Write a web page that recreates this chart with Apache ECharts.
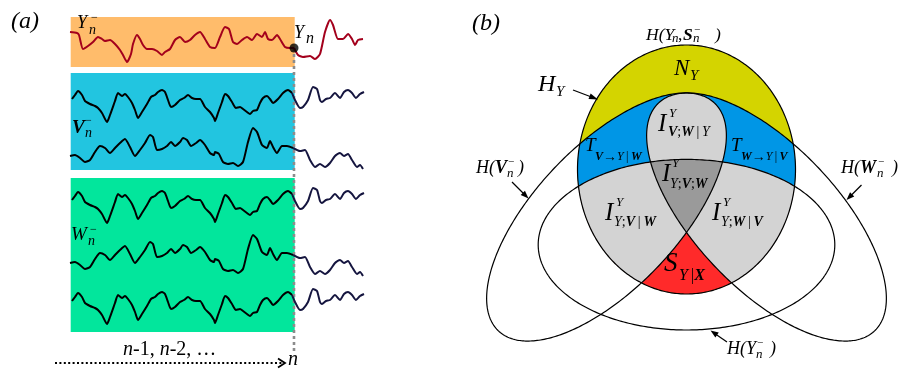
<!DOCTYPE html>
<html>
<head>
<meta charset="utf-8">
<script src="https://cdn.jsdelivr.net/npm/echarts@6/dist/echarts.min.js"></script>
<style>
  html, body { margin: 0; padding: 0; background: #fff; }
  #main { width: 900px; height: 369px; }
</style>
</head>
<body>
<div id="main"></div>
<script>
// ---- data: time t, amplitude ----
const tN = 224 // time step n

const traceY = [[0,13],[7,12],[9,10],[13,-4],[18,-1],[23,3],[28,8],[32,6],[35,4],[40,5],[45,1],[50,-5],[53,-10],[57,-17],[61,-9],[63,1],[67,10],[70,6],[73,0],[77,-4],[82,-4],[87,-6],[92,-10],[95,-7],[100,-4],[105,5],[110,8],[115,3],[120,5],[125,10],[130,13],[135,6],[140,-2],[145,-3],[150,8],[155,18],[159,16],[163,3],[167,1],[172,5],[177,8],[182,5],[187,11],[192,8],[195,13],[198,6],[202,5],[207,10],[210,6],[215,-2],[220,-3],[224,-3],[228,-10],[233,-12],[240,-11],[245,-14],[250,-9],[255,13],[260,25],[263,20],[268,6],[273,6],[278,11],[282,6],[285,0],[288,5],[293,6]]

const traceV1 = [[2,6],[5,10],[8,14],[12,10],[15,4],[20,1],[25,-1],[28,-3],[32,-8],[37,-17],[40,-10],[45,4],[48,12],[52,9],[55,11],[58,8],[62,2],[65,-5],[68,-13],[72,-7],[77,1],[81,8],[85,10],[88,13],[92,15],[95,13],[98,5],[101,-2],[105,0],[110,5],[114,7],[118,10],[122,7],[126,6],[130,6],[135,-2],[140,-7],[144,-13],[145,-16],[148,-8],[152,3],[155,11],[158,9],[162,3],[166,-3],[170,-2],[173,-4],[177,-7],[180,-9],[183,-6],[187,-5],[190,2],[193,7],[197,9],[200,6],[203,2],[208,6],[213,12],[218,15],[222,12],[225,5],[230,-3],[233,-2],[238,5],[243,18],[247,16],[250,5],[252,3],[256,6],[260,7],[265,12],[270,7],[274,13],[278,15],[282,12],[286,7],[290,11],[294,13]]

const traceV2 = [[0,-8],[5,-7],[10,-10],[15,-14],[20,-12],[25,-4],[30,2],[35,0],[40,-5],[45,0],[50,5],[55,9],[60,1],[65,-8],[70,-2],[75,5],[80,13],[83,11],[87,-2],[92,-1],[97,2],[101,6],[105,2],[110,6],[113,10],[117,8],[121,2],[126,5],[130,8],[135,3],[140,-5],[144,-7],[145,-4],[149,-6],[153,-14],[158,-16],[163,-15],[168,-18],[173,-14],[178,6],[183,20],[187,16],[192,3],[197,0],[200,7],[203,1],[207,-5],[212,2],[217,2],[223,0],[230,-3],[235,-2],[240,-12],[245,-19],[250,-16],[255,-19],[260,-15],[265,-8],[270,-5],[274,-8],[278,-6],[282,-12],[287,-19],[290,-17],[293,-21]]

// the W traces repeat the V shapes in the picture
const traceW1 = traceV1
const traceW2 = traceV2
const traceW3 = traceV1

// ---- layout ----
const FONT = '"Liberation Serif", "DejaVu Serif", serif'
const rows = [
	{ data: traceY, mid: 45, past: '#a3001c', future: '#a3001c' },
	{ data: traceV1, mid: 105, past: '#000', future: '#15153f' },
	{ data: traceV2, mid: 148, past: '#000', future: '#15153f' },
	{ data: traceW1, mid: 206, past: '#000', future: '#15153f' },
	{ data: traceW2, mid: 255, past: '#000', future: '#15153f' },
	{ data: traceW3, mid: 307, past: '#000', future: '#15153f' }
]

const chart = echarts.init(document.getElementById('main'), null, { renderer: 'canvas' })

const series = []
rows.forEach((r, i) => {
	const past = r.data.filter(p => p[0] <= tN)
	const last = past[past.length - 1][0]
	const future = r.data.filter(p => p[0] >= last)
	;[[past, r.past], [future, r.future]].forEach(([d, c]) => {
		series.push({
			type: 'line',
			xAxisIndex: i,
			yAxisIndex: i,
			data: d,
			showSymbol: false,
			smooth: 0.2,
			silent: true,
			z: 3,
			lineStyle: { width: 2, color: c }
		})
	})
})
series.push({
	type: 'scatter',
	xAxisIndex: 0,
	yAxisIndex: 0,
	data: traceY.filter(p => p[0] === tN),
	symbolSize: 9,
	itemStyle: { color: '#000' },
	silent: true,
	z: 5
})

chart.setOption({
	animation: false,
	backgroundColor: '#fff',
	grid: rows.map(r => ({ left: 70, width: 294, top: r.mid - 30, height: 60, show: false })),
	xAxis: rows.map((r, i) => ({ type: 'value', gridIndex: i, min: 0, max: 294, show: false })),
	yAxis: rows.map((r, i) => ({ type: 'value', gridIndex: i, min: -30, max: 30, show: false })),
	series: series
})

// ---- helpers for the drawing ----
function rich(s) {
	return {
		i: { fontSize: s, fontFamily: FONT, fontStyle: 'italic' },
		b: { fontSize: s, fontFamily: FONT, fontStyle: 'italic', fontWeight: 'bold' },
		r: { fontSize: s, fontFamily: FONT, fontStyle: 'normal' },
		a: { fontSize: s + 2, fontFamily: FONT, fontStyle: 'normal', fontWeight: 'bold' }
	}
}
function txt(x, y, text, size, extra) {
	return {
		type: 'text', x: x, y: y, z: 100, silent: true,
		style: Object.assign({
			text: text, fontSize: size, fontFamily: FONT, fontStyle: 'italic',
			fill: '#000', align: 'left', verticalAlign: 'middle', rich: rich(size)
		}, extra || {})
	}
}
function arrow(x1, y1, x2, y2, head, hw) {
	head = head || 8; hw = hw || 3
	const dx = x2 - x1, dy = y2 - y1, L = Math.hypot(dx, dy), ux = dx / L, uy = dy / L
	const bx = x2 - ux * head, by = y2 - uy * head
	return [
		{ type: 'line', z: 100, silent: true, shape: { x1: x1, y1: y1, x2: bx + ux * 2, y2: by + uy * 2 }, style: { stroke: '#000', lineWidth: 1.2 } },
		{ type: 'polygon', z: 100, silent: true, shape: { points: [[x2, y2], [bx - uy * hw, by + ux * hw], [bx + uy * hw, by - ux * hw]] }, style: { fill: '#000' } }
	]
}
function ellipse(cx, cy, rx, ry, rotDeg) {
	const p = rotDeg * Math.PI / 180, pts = []
	for (let k = 0; k < 360; k++) {
		const a = 2 * Math.PI * k / 360
		const x = rx * Math.cos(a), y = ry * Math.sin(a)
		pts.push([cx + x * Math.cos(p) - y * Math.sin(p), cy + x * Math.sin(p) + y * Math.cos(p)])
	}
	return pts
}
// Sutherland-Hodgman, clip polygon must be convex
function clip(subject, clipPoly) {
	let area = 0
	for (let i = 0; i < clipPoly.length; i++) {
		const a = clipPoly[i], b = clipPoly[(i + 1) % clipPoly.length]
		area += a[0] * b[1] - b[0] * a[1]
	}
	const s = area > 0 ? 1 : -1
	let out = subject
	for (let i = 0; i < clipPoly.length && out.length; i++) {
		const A = clipPoly[i], B = clipPoly[(i + 1) % clipPoly.length]
		const side = p => s * ((B[0] - A[0]) * (p[1] - A[1]) - (B[1] - A[1]) * (p[0] - A[0]))
		const inp = out
		out = []
		let S = inp[inp.length - 1]
		for (const E of inp) {
			const dE = side(E), dS = side(S)
			if (dE >= 0) {
				if (dS < 0) { const t = dS / (dS - dE); out.push([S[0] + t * (E[0] - S[0]), S[1] + t * (E[1] - S[1])]) }
				out.push(E)
			} else if (dS >= 0) {
				const t = dS / (dS - dE); out.push([S[0] + t * (E[0] - S[0]), S[1] + t * (E[1] - S[1])])
			}
			S = E
		}
	}
	return out
}
function fillPoly(points, color, z) {
	return { type: 'polygon', z: z, silent: true, shape: { points: points }, style: { fill: color } }
}
function strokePoly(points) {
	return { type: 'polygon', z: 60, silent: true, shape: { points: points }, style: { fill: 'none', stroke: '#000', lineWidth: 1.2 } }
}

// ---- panel (a) decorations ----
const x0 = chart.convertToPixel({ xAxisIndex: 0 }, 0)
const xN = chart.convertToPixel({ xAxisIndex: 0 }, tN)
const g = []
g.push({ type: 'rect', z: 0, silent: true, shape: { x: x0 + 0.7, y: 17, width: xN - x0, height: 50 }, style: { fill: '#ffbc6b' } })
g.push({ type: 'rect', z: 0, silent: true, shape: { x: x0 + 0.7, y: 73, width: xN - x0, height: 97 }, style: { fill: '#22c5e0' } })
g.push({ type: 'rect', z: 0, silent: true, shape: { x: x0 + 0.7, y: 178, width: xN - x0, height: 154 }, style: { fill: '#02e69c' } })
g.push({ type: 'line', z: 1, silent: true, shape: { x1: xN, y1: 48, x2: xN, y2: 351 }, style: { stroke: '#8c8c8c', lineWidth: 2.6, lineDash: [3, 3] } })
g.push({ type: 'line', z: 1, silent: true, shape: { x1: 55, y1: 363, x2: 284, y2: 363 }, style: { stroke: '#000', lineWidth: 1.8, lineDash: [2, 2.4] } })
g.push({ type: 'polyline', z: 1, silent: true, shape: { points: [[278, 358.5], [285, 363], [278, 367.5]] }, style: { stroke: '#000', lineWidth: 1.8, fill: 'none' } })

g.push(txt(11, 22, '(a)', 24))
g.push(txt(77, 23, 'Y', 18))
g.push(txt(89, 30, 'n', 14))
g.push(txt(91, 18, '\u2212', 12, { fontStyle: 'normal' }))
g.push(txt(294, 33, 'Y', 18))
g.push(txt(306, 39, 'n', 16))
g.push(txt(72, 128, 'V', 19, { fontWeight: 'bold' }))
g.push(txt(85, 133, 'n', 14))
g.push(txt(85, 121, '\u2212', 12, { fontStyle: 'normal' }))
g.push(txt(71, 235, 'W', 19))
g.push(txt(88, 241, 'n', 14))
g.push(txt(90, 230, '\u2212', 12, { fontStyle: 'normal' }))
g.push(txt(123, 350, '{i|n}-1, {i|n}-2, \u2026', 20, { fontStyle: 'normal' }))
g.push(txt(288, 360, 'n', 20))

// ---- panel (b) Venn geometry ----
const C = ellipse(686.5, 169.5, 109, 124.5, 0)
const Yp = ellipse(686.5, 244.7, 148.3, 85.3, 0)
const V = ellipse(606.5, 217, 157, 71.5, -46.5)
const W = ellipse(766.5, 217, 157, 71.5, 46.5)

const cV = clip(V, C), cW = clip(W, C)
const cVW = clip(cV, W)
const cY = clip(Yp, C)
const cYV = clip(cY, V), cYW = clip(cY, W)
const cYVW = clip(cYV, W)

g.push(fillPoly(C, '#d4d400', 40))
g.push(fillPoly(cV, '#0096e6', 41))
g.push(fillPoly(cW, '#0096e6', 41))
g.push(fillPoly(cVW, '#d3d3d3', 42))
g.push(fillPoly(cY, '#ff2a2a', 43))
g.push(fillPoly(cYV, '#d3d3d3', 44))
g.push(fillPoly(cYW, '#d3d3d3', 44))
g.push(fillPoly(cYVW, '#9a9a9a', 45))
g.push(strokePoly(C), strokePoly(Yp), strokePoly(V), strokePoly(W))

// ---- panel (b) labels ----
g.push(txt(472, 24, '(b)', 24))
g.push(txt(646, 35, 'H(Y', 17.5))
g.push(txt(672, 39, 'n', 13))
g.push(txt(678, 35, ',', 17.5, { fontStyle: 'normal' }))
g.push(txt(683, 35, 'S', 17.5, { fontWeight: 'bold' }))
g.push(txt(693, 39, 'n', 13))
g.push(txt(694, 30, '\u2212', 11, { fontStyle: 'normal' }))
g.push(txt(715, 35, ')', 17.5))

g.push(txt(674, 69, 'N', 23))
g.push(txt(690, 76, 'Y', 15))
g.push(txt(538, 85, 'H', 24))
g.push(txt(556, 92, 'Y', 15))
g.push(...arrow(573, 90, 598, 99.5, 9, 3))

g.push(txt(658, 124, 'I', 25))
g.push(txt(669, 114, 'Y', 13))
g.push(txt(668, 132, '{b|V}{r|;}{b|W}{r|\u2009|\u2009}{i|Y}', 14))

g.push(txt(585, 146, 'T', 19))
g.push(txt(595, 157, '{b|V}{a|\u2192}{i|Y}{r|\u2009|\u2009}{b|W}', 12))
g.push(txt(731, 146, 'T', 19))
g.push(txt(741, 157, '{b|W}{a|\u2192}{i|Y}{r|\u2009|\u2009}{b|V}', 12))

g.push(txt(662, 174, 'I', 25))
g.push(txt(672, 164, 'Y', 13))
g.push(txt(670, 184, '{i|Y}{r|;}{b|V}{r|;}{b|W}', 14))

g.push(txt(605, 213, 'I', 25))
g.push(txt(616, 203, 'Y', 13))
g.push(txt(614, 222, '{i|Y}{r|;}{b|V}{r|\u2009|\u2009}{b|W}', 14))

g.push(txt(712, 213, 'I', 25))
g.push(txt(723, 203, 'Y', 13))
g.push(txt(721, 222, '{i|Y}{r|;}{b|W}{r|\u2009|\u2009}{b|V}', 14))

g.push(txt(664, 264, 'S', 27))
g.push(txt(679, 276, '{i|Y}{r|\u2009|}{b|X}', 16))

g.push(txt(476, 168, 'H(', 18))
g.push(txt(495, 168, 'V', 18, { fontWeight: 'bold' }))
g.push(txt(507, 174, 'n', 13))
g.push(txt(508, 162, '\u2212', 11, { fontStyle: 'normal' }))
g.push(txt(518, 168, ')', 18))
g.push(...arrow(512, 182, 528.5, 198.5, 8, 3))

g.push(txt(841, 168, 'H(', 18))
g.push(txt(860, 168, 'W', 18, { fontWeight: 'bold' }))
g.push(txt(877, 174, 'n', 13))
g.push(txt(878, 162, '\u2212', 11, { fontStyle: 'normal' }))
g.push(txt(892, 168, ')', 18))
g.push(...arrow(861.5, 185, 846.5, 200, 8, 3))

g.push(txt(727, 349, 'H(Y', 18))
g.push(txt(756, 355, 'n', 13))
g.push(txt(757, 343, '\u2212', 11, { fontStyle: 'normal' }))
g.push(txt(770, 349, ')', 18))
g.push(...arrow(727, 342, 710.5, 330.5, 8, 3))

chart.setOption({ graphic: { elements: g } })

window.addEventListener('resize', () => chart.resize())
</script>
</body>
</html>
